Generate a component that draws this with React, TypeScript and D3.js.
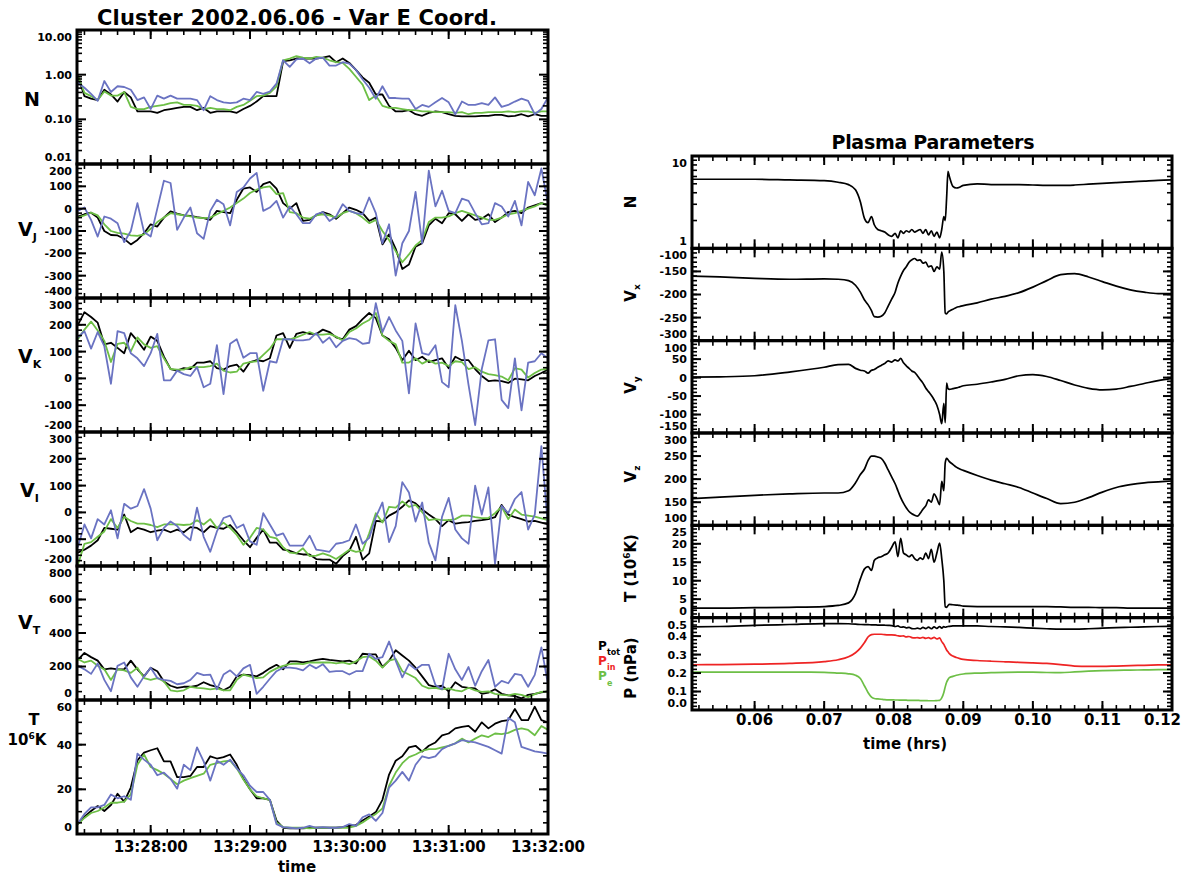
import * as d3 from "d3";

const W = 1184;
const H = 876;
const FONT = "'DejaVu Sans', Verdana, sans-serif";
const BLUE = "#6a73c2";
const GREEN = "#6dbf46";
const RED = "#ee2424";

// ---------- left column: Cluster 2002.06.06, 4 s samples, seconds after 13:27:00
const leftSeconds = [
  16, 20, 24, 28, 32, 36, 40, 44, 48, 52, 56, 60, 64, 68, 72, 76, 80, 84, 88, 92, 96, 100, 104, 108,
  112, 116, 120, 124, 128, 132, 136, 140, 144, 148, 152, 156, 160, 164, 168, 172, 176, 180, 184, 188,
  192, 196, 200, 204, 208, 212, 216, 220, 224, 228, 232, 236, 240, 244, 248, 252, 256, 260, 264, 268,
  272, 276, 280, 284, 288, 292, 296, 300,
];
const clockTicks = [60, 120, 180, 240, 300];
const clockLabels = ["13:28:00", "13:29:00", "13:30:00", "13:31:00", "13:32:00"];

const nBlack = [0.95, 0.33, 0.29, 0.27, 0.46, 0.36, 0.25, 0.41, 0.31, 0.15, 0.15, 0.15, 0.14, 0.16, 0.17, 0.18, 0.19, 0.19, 0.16, 0.18, 0.14, 0.15, 0.15, 0.15, 0.14, 0.17, 0.2, 0.25, 0.33, 0.33, 0.33, 2.0, 2.1, 2.3, 2.3, 2.3, 2.3, 2.4, 2.6, 1.9, 2.3, 1.83, 1.28, 0.87, 0.66, 0.36, 0.36, 0.2, 0.15, 0.15, 0.16, 0.13, 0.12, 0.14, 0.15, 0.145, 0.13, 0.12, 0.117, 0.117, 0.117, 0.12, 0.12, 0.126, 0.126, 0.117, 0.12, 0.13, 0.117, 0.13, 0.12, 0.12];
const nGreen = [0.95, 0.39, 0.33, 0.27, 0.42, 0.34, 0.34, 0.41, 0.19, 0.17, 0.17, 0.19, 0.2, 0.21, 0.23, 0.24, 0.21, 0.21, 0.2, 0.17, 0.18, 0.17, 0.17, 0.16, 0.19, 0.21, 0.26, 0.33, 0.34, 0.39, 0.55, 2.1, 2.3, 2.6, 2.4, 2.3, 2.5, 2.4, 2.1, 1.9, 1.83, 1.35, 0.9, 0.6, 0.27, 0.34, 0.2, 0.18, 0.18, 0.17, 0.16, 0.16, 0.15, 0.15, 0.145, 0.145, 0.145, 0.14, 0.145, 0.13, 0.14, 0.14, 0.145, 0.145, 0.145, 0.15, 0.145, 0.15, 0.15, 0.14, 0.15, 0.15];
const nBlue = [0.66, 0.51, 0.37, 0.26, 0.72, 0.41, 0.55, 0.53, 0.46, 0.27, 0.31, 0.17, 0.34, 0.29, 0.34, 0.29, 0.29, 0.29, 0.27, 0.16, 0.33, 0.27, 0.24, 0.23, 0.24, 0.29, 0.27, 0.41, 0.37, 0.42, 0.63, 2.1, 1.5, 2.2, 2.3, 1.8, 2.3, 2.4, 1.6, 1.6, 1.9, 1.77, 1.28, 0.79, 0.51, 0.29, 0.55, 0.3, 0.3, 0.29, 0.29, 0.17, 0.21, 0.19, 0.24, 0.3, 0.24, 0.13, 0.25, 0.21, 0.21, 0.23, 0.21, 0.31, 0.19, 0.21, 0.25, 0.29, 0.26, 0.13, 0.17, 0.31];

const vjBlack = [-35, -25, -18, -40, -100, -118, -120, -135, -160, -140, -110, -70, -80, -40, -12, -22, -30, -32, -38, -42, -50, -10, -15, -20, 40, 90, 95, 75, 110, 120, 90, 25, 0, 25, -55, -50, -30, -15, -25, -45, -20, 5, -5, -20, -55, -40, -160, -115, -180, -270, -250, -170, -155, -75, -45, -65, -20, -25, -55, -25, -50, -45, -25, -60, -40, -15, -10, -20, 5, 15, 25, 15];
const vjGreen = [-40, -30, -18, -30, -70, -100, -108, -112, -120, -122, -115, -90, -60, -40, -20, -25, -30, -35, -40, -42, -40, -25, -10, 5, 25, 45, 70, 85, 95, 100, 65, 70, -15, -20, -40, -45, -30, -25, -30, -40, -20, -10, -20, -40, -65, -50, -100, -140, -190, -240, -205, -165, -140, -60, -40, -40, -35, -20, -10, -20, -30, -40, -50, -50, -40, -25, -20, -10, 0, 10, 25, 15];
const vjBlue = [-10, 5, -50, -125, -35, -45, -65, -150, -100, 25, -105, -125, 0, 125, 115, -95, -40, 5, -110, -135, -10, 40, 20, -75, 75, 95, 135, 160, -10, 5, 35, -40, 10, -25, -65, -65, -25, -15, -55, -35, 20, -10, -20, -25, 50, -20, -155, -70, -300, -155, -100, 75, -155, 170, 10, 80, -10, -20, 45, 35, -20, -70, -65, 25, 10, -35, 35, -75, 120, 60, 180, 20];

const vkBlack = [199, 247, 229, 208, 127, 133, 114, 94, 169, 140, 107, 156, 140, 81, 35, 29, 38, 35, 59, 59, 64, 38, 33, 46, 51, 25, 61, 68, 64, 75, 160, 169, 114, 166, 173, 166, 166, 182, 173, 153, 146, 182, 195, 221, 244, 225, 160, 146, 114, 68, 103, 68, 81, 61, 68, 75, 38, 81, 68, 68, 35, 9, -10, -7, -10, -17, -1, -4, -7, 9, 20, 33];
const vkGreen = [146, 182, 212, 179, 140, 61, 129, 133, 101, 153, 127, 114, 120, 75, 35, 33, 33, 42, 42, 42, 46, 55, 29, 22, 25, 55, 61, 64, 88, 111, 146, 146, 146, 153, 163, 173, 163, 163, 166, 156, 142, 173, 186, 205, 218, 244, 160, 140, 127, 59, 59, 75, 55, 68, 55, 59, 46, 64, 61, 35, 42, 25, 16, 12, 7, -7, 38, 33, 3, 20, 33, 35];
const vkBlue = [153, 176, 111, 173, 120, -20, 176, 169, 94, 75, 46, 94, 166, -7, -7, 29, 16, 9, 42, -33, -20, 124, -59, 129, 146, 77, 94, 94, -46, 64, 59, 146, 146, 142, 142, 146, 169, 133, 153, 116, 140, 150, 146, 129, 133, 281, 173, 229, 179, 140, -56, 205, 94, 88, 124, -14, -33, 273, 140, -24, -174, 35, 142, 146, -80, -111, 75, -119, 59, 64, 94, 75];

const viBlack = [-150, -139, -124, -104, -58, -61, -64, -8, -74, -58, -64, -74, -68, -64, -74, -64, -74, -55, -58, -74, -51, -58, -61, -47, -74, -104, -130, -95, -64, -113, -113, -139, -143, -153, -157, -157, -174, -176, -176, -192, -163, -143, -91, -176, -153, -32, -34, -12, 1, 21, 45, 34, 11, -8, -25, -51, -29, -42, -38, -36, -32, -29, -25, -18, 28, -8, -18, -25, -34, -32, -38, -45];
const viGreen = [-196, -117, -111, -91, -71, -25, -58, -16, -32, -42, -42, -47, -55, -45, -45, -45, -47, -45, -29, -45, -25, -58, -38, -58, -84, -121, -95, -58, -64, -91, -97, -130, -150, -153, -134, -163, -161, -153, -161, -174, -157, -139, -147, -143, -78, -3, -38, 21, 18, 41, 21, 28, 1, -29, -25, -29, -29, -25, -12, -12, -18, -21, -21, -3, 21, -25, 11, -8, -12, -16, -22, -29];
const viBlue = [-130, -45, -97, -25, -45, 8, -97, 32, 14, 24, 87, 14, -104, -58, -34, -51, -84, -104, 18, -91, -147, -71, -21, -12, -58, -45, -108, -121, -3, -45, -87, -78, -124, -124, -124, -87, -139, -143, -147, -117, -113, -104, -45, -117, -95, -18, 37, -111, -51, 113, 74, -34, 37, -113, -179, -16, 54, -64, -97, -117, 100, -8, 93, -192, 24, -3, 50, 76, -64, -8, 247, -55];

const vtBlack = [239, 281, 256, 235, 183, 189, 183, 183, 235, 183, 141, 193, 172, 110, 85, 73, 79, 79, 85, 106, 89, 79, 58, 79, 141, 152, 148, 141, 162, 189, 210, 183, 231, 231, 224, 231, 239, 245, 239, 235, 231, 235, 218, 276, 272, 272, 197, 235, 297, 266, 235, 193, 141, 89, 79, 85, 52, 106, 79, 73, 69, 37, 44, 64, 37, 27, 23, 10, 31, 37, 45, 52];
const vtGreen = [245, 224, 235, 204, 183, 120, 183, 177, 162, 193, 131, 120, 131, 110, 58, 52, 58, 79, 73, 69, 64, 69, 58, 58, 120, 152, 141, 131, 135, 168, 189, 204, 214, 218, 214, 224, 224, 224, 224, 218, 224, 214, 231, 256, 260, 235, 193, 235, 245, 172, 152, 131, 85, 69, 73, 64, 69, 58, 52, 73, 58, 48, 52, 37, 31, 27, 37, 31, 17, 35, 48, 52];
const vtBlue = [204, 183, 156, 218, 120, 52, 204, 224, 135, 79, 141, 193, 131, 120, 114, 94, 100, 120, 162, 148, 152, 64, 152, 177, 141, 189, 210, 37, 79, 127, 172, 193, 193, 189, 177, 210, 189, 214, 168, 172, 172, 152, 172, 172, 276, 245, 256, 349, 235, 135, 214, 183, 210, 210, 89, 64, 276, 183, 120, 197, 85, 172, 239, 79, 114, 100, 156, 148, 79, 150, 314, 94];

const tBlack = [4.4, 7.8, 10.3, 12.5, 10.3, 13, 18, 14.5, 20.8, 33, 36.4, 37.5, 38.4, 32.5, 32.5, 25.5, 25.5, 26, 30, 30, 34.8, 33.8, 34.4, 35.6, 31, 24.7, 20, 16, 16, 15.3, 6, 2.8, 2.5, 2.5, 2.5, 2.8, 2.8, 2.8, 2.8, 2.8, 3.1, 3.6, 4, 6, 7.8, 9.8, 15.3, 26.6, 32.8, 34.8, 38.8, 39.5, 36.9, 39.5, 41, 44.2, 45, 47.3, 48, 48.4, 45.8, 50, 47.3, 49.4, 50.5, 51, 56, 51, 51, 57, 51, 50];
const tGreen = [4.4, 7.2, 9.4, 10.3, 11.9, 14, 14, 14.5, 17.7, 31, 35.6, 30, 28.6, 27, 24.7, 22.3, 23.9, 25, 26, 27, 31, 31.7, 32.5, 32.8, 29.4, 24.4, 20, 16.9, 16, 15.3, 5.2, 3.1, 2.8, 2.8, 2.8, 2.5, 2.8, 2.8, 2.8, 2.8, 2.8, 2.8, 3.6, 5.2, 7.2, 9, 11.4, 21.6, 27.5, 31.7, 34.4, 35.6, 37.2, 38, 38, 38.8, 39.5, 40.6, 42.7, 41, 42.7, 44.2, 43.4, 45, 44.7, 45.3, 46.6, 47.3, 46.6, 44.2, 48.4, 46.6];
const tBlue = [4.7, 9, 11.9, 11.9, 13, 17.7, 16, 16.9, 15.3, 36, 33.3, 31, 26.3, 27.5, 24.7, 20.3, 31, 28.6, 38.8, 32.5, 23.9, 32.8, 31, 33.3, 29.4, 26.3, 21.6, 18.8, 18.8, 15.3, 4.4, 3.1, 2.8, 2.5, 2.8, 3.6, 2.8, 3.1, 2.8, 2.8, 3.1, 4.4, 3.6, 7.5, 8.8, 5.9, 9.4, 20.8, 23.9, 27.8, 23.9, 31, 34.8, 34, 34.8, 38, 39.5, 40.6, 42, 41.5, 41, 40, 39, 37.5, 36, 52, 50, 39, 38, 37, 36.5, 36];

// ---------- right column: Plasma Parameters, time in hours
const rightTime = [
  0.051, 0.055, 0.06, 0.065, 0.07, 0.072, 0.0735, 0.0745, 0.0752, 0.0758, 0.0763, 0.0768, 0.0772,
  0.0777, 0.0782, 0.0787, 0.0792, 0.0797, 0.0802, 0.0806, 0.081, 0.0814, 0.0818, 0.0822, 0.0826,
  0.083, 0.0834, 0.0838, 0.0842, 0.0846, 0.085, 0.0854, 0.0858, 0.0862, 0.0866, 0.0869, 0.0872,
  0.0874, 0.0876, 0.0878, 0.088, 0.0885, 0.089, 0.0895, 0.09, 0.092, 0.094, 0.096, 0.098, 0.1,
  0.102, 0.104, 0.106, 0.108, 0.11, 0.112, 0.114, 0.116, 0.118, 0.12,
];
const hourTicks = [0.06, 0.07, 0.08, 0.09, 0.1, 0.11, 0.12];
const hourLabels = ["0.06", "0.07", "0.08", "0.09", "0.10", "0.11", "0.12"];

const rN = [5.6, 5.6, 5.6, 5.5, 5.4, 5.2, 4.9, 4.3, 3.2, 2.1, 1.9, 2.2, 1.8, 1.6, 1.55, 1.5, 1.4, 1.35, 1.45, 1.3, 1.55, 1.45, 1.55, 1.5, 1.6, 1.5, 1.55, 1.6, 1.45, 1.6, 1.4, 1.55, 1.35, 1.5, 1.3, 1.6, 2.2, 2.0, 3.5, 6.8, 6.0, 4.7, 4.5, 4.6, 4.8, 5.0, 4.9, 4.9, 4.9, 4.85, 4.8, 4.8, 4.85, 4.95, 5.05, 5.15, 5.25, 5.35, 5.45, 5.5];
const rVx = [-160, -162, -165, -167, -166, -167, -170, -180, -195, -212, -222, -235, -248, -249, -247, -240, -225, -210, -195, -175, -160, -148, -140, -130, -125, -122, -126, -125, -132, -130, -140, -138, -150, -140, -145, -108, -150, -240, -242, -238, -236, -232, -228, -226, -224, -218, -210, -204, -196, -184, -170, -157, -155, -162, -172, -182, -190, -195, -198, -198];
const rVy = [1, 2, 5, 15, 28, 35, 36, 25, 20, 18, 12, 20, 22, 28, 33, 38, 45, 42, 48, 45, 52, 40, 32, 25, 18, 14, 5, -5, -15, -28, -38, -48, -60, -75, -100, -125, -70, -122, -15, -30, -32, -30, -28, -25, -22, -18, -12, -5, 5, 8, 3, -8, -20, -29, -33, -31, -24, -16, -8, -2];
const rVz = [158, 161, 165, 168, 170, 170, 175, 192, 210, 222, 240, 250, 250, 248, 245, 235, 220, 205, 190, 175, 160, 148, 138, 130, 125, 122, 120, 126, 135, 142, 155, 150, 168, 158, 145, 195, 175, 235, 245, 242, 238, 232, 226, 222, 219, 208, 198, 190, 182, 170, 158, 147, 150, 160, 172, 182, 188, 192, 194, 196];
const rT = [2.6, 2.6, 2.7, 2.8, 3.0, 3.3, 4.0, 6.5, 10.5, 13.2, 13.8, 12.8, 15.5, 16.2, 16.5, 17.0, 17.5, 19.0, 20.5, 16.5, 21.5, 17.5, 17.0, 16.5, 17.0, 16.0, 15.5, 16.2, 15.8, 17.5, 16.0, 18.5, 15.0, 17.5, 20.2, 16.0, 10.0, 3.0, 2.8, 3.3, 3.6, 3.5, 3.4, 3.3, 3.1, 3.0, 3.0, 3.0, 3.0, 3.0, 3.0, 2.9, 2.8, 2.8, 2.7, 2.7, 2.6, 2.6, 2.6, 2.6];
const rPtot = [0.45, 0.452, 0.458, 0.463, 0.468, 0.468, 0.467, 0.465, 0.463, 0.462, 0.462, 0.461, 0.461, 0.46, 0.46, 0.459, 0.458, 0.457, 0.452, 0.455, 0.448, 0.45, 0.445, 0.447, 0.441, 0.44, 0.443, 0.439, 0.447, 0.441, 0.449, 0.44, 0.45, 0.442, 0.452, 0.443, 0.452, 0.448, 0.45, 0.452, 0.453, 0.455, 0.456, 0.456, 0.456, 0.455, 0.452, 0.45, 0.447, 0.443, 0.44, 0.438, 0.438, 0.44, 0.443, 0.446, 0.448, 0.45, 0.452, 0.453];
const rPin = [0.245, 0.246, 0.248, 0.252, 0.262, 0.272, 0.288, 0.31, 0.335, 0.365, 0.395, 0.408, 0.41, 0.41, 0.41, 0.408, 0.407, 0.407, 0.405, 0.402, 0.4, 0.401, 0.396, 0.398, 0.392, 0.39, 0.392, 0.389, 0.393, 0.388, 0.392, 0.386, 0.393, 0.385, 0.39, 0.37, 0.355, 0.34, 0.325, 0.315, 0.305, 0.292, 0.284, 0.278, 0.274, 0.268, 0.264, 0.261, 0.258, 0.255, 0.252, 0.246, 0.238, 0.236, 0.236, 0.238, 0.24, 0.242, 0.244, 0.245];
const rPe = [0.205, 0.205, 0.205, 0.205, 0.204, 0.2, 0.196, 0.188, 0.17, 0.13, 0.095, 0.07, 0.062, 0.06, 0.058, 0.056, 0.055, 0.055, 0.054, 0.054, 0.053, 0.053, 0.053, 0.052, 0.052, 0.052, 0.052, 0.051, 0.051, 0.051, 0.05, 0.05, 0.05, 0.051, 0.052, 0.065, 0.095, 0.125, 0.15, 0.165, 0.175, 0.182, 0.188, 0.192, 0.195, 0.2, 0.202, 0.204, 0.205, 0.205, 0.203, 0.202, 0.206, 0.21, 0.213, 0.215, 0.216, 0.217, 0.218, 0.218];

type Series = { values: number[]; color: string };
type Spec = {
  log?: boolean;
  domain: [number, number];
  ticks: number[];
  labels: string[];
  minorStep?: number;
  series: Series[];
};

const leftSpecs: Spec[] = [
  { log: true, domain: [0.01, 10], ticks: [0.01, 0.1, 1, 10], labels: ["0.01", "0.10", "1.00", "10.00"],
    series: [{ values: nBlack, color: "#000" }, { values: nGreen, color: GREEN }, { values: nBlue, color: BLUE }] },
  { domain: [-400, 200], ticks: [-400, -300, -200, -100, 0, 100, 200], labels: ["-400", "-300", "-200", "-100", "0", "100", "200"], minorStep: 20,
    series: [{ values: vjBlack, color: "#000" }, { values: vjGreen, color: GREEN }, { values: vjBlue, color: BLUE }] },
  { domain: [-200, 300], ticks: [-200, -100, 0, 100, 200, 300], labels: ["-200", "-100", "0", "100", "200", "300"], minorStep: 20,
    series: [{ values: vkBlack, color: "#000" }, { values: vkGreen, color: GREEN }, { values: vkBlue, color: BLUE }] },
  { domain: [-200, 300], ticks: [-200, -100, 0, 100, 200, 300], labels: ["-200", "-100", "0", "100", "200", "300"], minorStep: 20,
    series: [{ values: viBlack, color: "#000" }, { values: viGreen, color: GREEN }, { values: viBlue, color: BLUE }] },
  { domain: [0, 800], ticks: [0, 200, 400, 600, 800], labels: ["0", "200", "400", "600", "800"], minorStep: 50,
    series: [{ values: vtBlack, color: "#000" }, { values: vtGreen, color: GREEN }, { values: vtBlue, color: BLUE }] },
  { domain: [0, 60], ticks: [0, 20, 40, 60], labels: ["0", "20", "40", "60"], minorStep: 5,
    series: [{ values: tBlack, color: "#000" }, { values: tGreen, color: GREEN }, { values: tBlue, color: BLUE }] },
];

const rightSpecs: Spec[] = [
  { log: true, domain: [1, 10], ticks: [1, 10], labels: ["1", "10"], series: [{ values: rN, color: "#000" }] },
  { domain: [-300, -100], ticks: [-300, -250, -200, -150, -100], labels: ["-300", "-250", "-200", "-150", "-100"], minorStep: 10,
    series: [{ values: rVx, color: "#000" }] },
  { domain: [-150, 100], ticks: [-150, -100, -50, 0, 50, 100], labels: ["-150", "-100", "-50", "0", "50", "100"], minorStep: 10,
    series: [{ values: rVy, color: "#000" }] },
  { domain: [100, 300], ticks: [100, 150, 200, 250, 300], labels: ["100", "150", "200", "250", "300"], minorStep: 10,
    series: [{ values: rVz, color: "#000" }] },
  { domain: [0, 25], ticks: [0, 5, 10, 15, 20, 25], labels: ["0", "5", "10", "15", "20", "25"], minorStep: 1,
    series: [{ values: rT, color: "#000" }] },
  { domain: [0, 0.5], ticks: [0, 0.1, 0.2, 0.3, 0.4, 0.5], labels: ["0.0", "0.1", "0.2", "0.3", "0.4", "0.5"], minorStep: 0.02,
    series: [{ values: rPtot, color: "#000" }, { values: rPin, color: RED }, { values: rPe, color: GREEN }] },
];

const leftX = d3.scaleLinear().domain([15.5, 300]).range([77, 548]);
const rightX = d3.scaleLinear().domain([0.051, 0.12]).range([692, 1172]);
const leftTop = 30;
const leftH = 134;
const rightTop = 156;
const rightH = 92.33;

function logMinors(domain: [number, number]) {
  const out: number[] = [];
  for (let e = Math.floor(Math.log10(domain[0])); e < Math.ceil(Math.log10(domain[1])); e++) {
    for (let k = 2; k <= 9; k++) out.push(k * Math.pow(10, e));
  }
  return out;
}

function Panel(props: {
  id: string;
  spec: Spec;
  xScale: d3.ScaleLinear<number, number>;
  times: number[];
  top: number;
  bottom: number;
  xMajor: number[];
  xMinor: number[];
  curve: d3.CurveFactory;
  tickSize: number;
  width: number;
}) {
  const { id, spec, xScale, times, top, bottom } = props;
  const [left, right] = xScale.range();
  const y = spec.log
    ? d3.scaleLog().domain(spec.domain).range([bottom, top])
    : d3.scaleLinear().domain(spec.domain).range([bottom, top]);
  const minors = spec.log
    ? logMinors(spec.domain)
    : d3.range(spec.domain[0], spec.domain[1] + spec.minorStep! / 2, spec.minorStep!);
  const line = d3
    .line<number>()
    .x((_, i) => xScale(times[i]))
    .y((v) => y(v))
    .curve(props.curve);
  const tk = (x1: number, y1: number, x2: number, y2: number, w: number, k: string) => (
    <line key={k} x1={x1} y1={y1} x2={x2} y2={y2} stroke="#000" strokeWidth={w} />
  );
  // labels at the panel edges are nudged inward so stacked panels don't collide
  const nudge = (i: number) => (i === 0 ? -7 : i === spec.ticks.length - 1 ? 7 : 0);
  return (
    <g>
      <clipPath id={id}>
        <rect x={left} y={top} width={right - left} height={bottom - top} />
      </clipPath>
      <g clipPath={`url(#${id})`}>
        {spec.series.map((s, k) => (
          <path key={k} d={line(s.values) ?? ""} fill="none" stroke={s.color} strokeWidth={props.width} strokeLinejoin="round" />
        ))}
      </g>
      {spec.ticks.map((v, i) => (
        <g key={"ym" + i}>
          {tk(left, y(v), left + 9, y(v), 2, "a")}
          {tk(right - 9, y(v), right, y(v), 2, "b")}
        </g>
      ))}
      {minors.map((v, i) => (
        <g key={"yn" + i}>
          {tk(left, y(v), left + 5, y(v), 1.6, "a")}
          {tk(right - 5, y(v), right, y(v), 1.6, "b")}
        </g>
      ))}
      {props.xMajor.map((v, i) => (
        <g key={"xm" + i}>
          {tk(xScale(v), bottom, xScale(v), bottom - 9, 2, "a")}
          {tk(xScale(v), top, xScale(v), top + 9, 2, "b")}
        </g>
      ))}
      {props.xMinor.map((v, i) => (
        <g key={"xn" + i}>
          {tk(xScale(v), bottom, xScale(v), bottom - 5, 1.6, "a")}
          {tk(xScale(v), top, xScale(v), top + 5, 1.6, "b")}
        </g>
      ))}
      <rect x={left} y={top} width={right - left} height={bottom - top} fill="none" stroke="#000" strokeWidth={3} />
      {spec.ticks.map((v, i) => (
        <text key={"yl" + i} x={left - 5} y={y(v) + nudge(i)} dy="0.36em" textAnchor="end" fontSize={props.tickSize}>
          {spec.labels[i]}
        </text>
      ))}
    </g>
  );
}

export default function App() {
  const leftMinor = d3.range(20, 301, 10);
  const rightMinor = d3.range(0.052, 0.1201, 0.002);
  const rot = (x: number, y: number) => `translate(${x},${y}) rotate(-90)`;
  return (
    <svg
      width={W}
      height={H}
      style={{ position: "absolute", left: 0, top: 0, background: "#fff" }}
      fontFamily={FONT}
      fontWeight="bold"
    >
      <rect width={W} height={H} fill="#fff" />
      <text x={297} y={25} textAnchor="middle" fontSize={21} textLength={400}>
        Cluster 2002.06.06 - Var E Coord.
      </text>
      {leftSpecs.map((s, i) => (
        <Panel
          key={"L" + i}
          id={"clipL" + i}
          spec={s}
          xScale={leftX}
          times={leftSeconds}
          top={leftTop + i * leftH}
          bottom={leftTop + (i + 1) * leftH}
          xMajor={clockTicks}
          xMinor={leftMinor}
          curve={d3.curveLinear}
          tickSize={11}
          width={1.8}
        />
      ))}
      {clockTicks.map((t, i) => (
        <text key={"cl" + i} x={leftX(t)} y={852} textAnchor="middle" fontSize={15} textLength={74}>
          {clockLabels[i]}
        </text>
      ))}
      <text x={297} y={872} textAnchor="middle" fontSize={15}>time</text>

      <text x={32} y={106} textAnchor="middle" fontSize={19}>N</text>
      <text x={18} y={236} fontSize={19}>V<tspan dy={5} fontSize={11}>J</tspan></text>
      <text x={18} y={363} fontSize={19}>V<tspan dy={5} fontSize={11}>K</tspan></text>
      <text x={20} y={497} fontSize={19}>V<tspan dy={5} fontSize={11}>I</tspan></text>
      <text x={18} y={629} fontSize={19}>V<tspan dy={5} fontSize={11}>T</tspan></text>
      <text x={34} y={725} textAnchor="middle" fontSize={16}>T</text>
      <text x={27} y={745} textAnchor="middle" fontSize={15}>
        10<tspan dy={-6} fontSize={9}>6</tspan><tspan dy={6}>K</tspan>
      </text>

      <text x={933} y={149} textAnchor="middle" fontSize={19} textLength={203}>
        Plasma Parameters
      </text>
      {rightSpecs.map((s, i) => (
        <Panel
          key={"R" + i}
          id={"clipR" + i}
          spec={s}
          xScale={rightX}
          times={rightTime}
          top={rightTop + i * rightH}
          bottom={rightTop + (i + 1) * rightH}
          xMajor={hourTicks}
          xMinor={rightMinor}
          curve={d3.curveMonotoneX}
          tickSize={11}
          width={1.7}
        />
      ))}
      {hourTicks.map((t, i) => (
        <text
          key={"hl" + i}
          x={i === hourTicks.length - 1 ? 1181 : rightX(t)}
          y={725}
          textAnchor={i === hourTicks.length - 1 ? "end" : "middle"}
          fontSize={15}
          textLength={37}
        >
          {hourLabels[i]}
        </text>
      ))}
      <text x={905} y={749} textAnchor="middle" fontSize={15}>time (hrs)</text>

      <text transform={rot(636, 202)} textAnchor="middle" fontSize={15}>N</text>
      <text transform={rot(636, 293)} textAnchor="middle" fontSize={15}>V<tspan dy={4} fontSize={9}>x</tspan></text>
      <text transform={rot(636, 385)} textAnchor="middle" fontSize={15}>V<tspan dy={4} fontSize={9}>y</tspan></text>
      <text transform={rot(636, 474)} textAnchor="middle" fontSize={15}>V<tspan dy={4} fontSize={9}>z</tspan></text>
      <text transform={rot(636, 568)} textAnchor="middle" fontSize={15}>
        T (10<tspan dy={-6} fontSize={9}>6</tspan><tspan dy={6}>K)</tspan>
      </text>
      <text transform={rot(636, 668)} textAnchor="middle" fontSize={15}>P (nPa)</text>

      <text x={598} y={650} fontSize={12} fill="#000">P</text>
      <text x={607} y={655} fontSize={8} fill="#000">tot</text>
      <text x={598} y={665} fontSize={12} fill={RED}>P</text>
      <text x={607} y={670} fontSize={8} fill={RED}>in</text>
      <text x={598} y={680} fontSize={12} fill={GREEN}>P</text>
      <text x={607} y={686} fontSize={8} fill={GREEN}>e</text>
    </svg>
  );
}
